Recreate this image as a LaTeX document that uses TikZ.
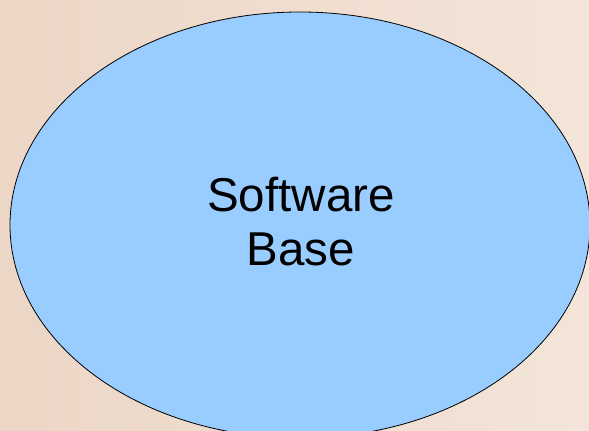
\documentclass[tikz,border=0pt]{standalone}
\usepackage{fontspec}
\setmainfont{Liberation Sans}
\usetikzlibrary{shapes.geometric}
\definecolor{bgleft}{RGB}{236,214,198}
\definecolor{bgright}{RGB}{243,229,217}
\definecolor{ellfill}{RGB}{153,204,255}
\tikzset{
  baseell/.style={ellipse, draw=black, line width=0.8pt, fill=ellfill, inner sep=0pt},
  basetext/.style={align=center, font=\fontsize{47.5}{54}\selectfont, inner sep=0pt}
}
\begin{document}
\begin{tikzpicture}[x=1pt,y=1pt]
\useasboundingbox (0,0) rectangle (589,431);
\clip (0,0) rectangle (589,431);
\shade[left color=bgleft, right color=bgright] (0,0) rectangle (589,431);
\node[baseell, minimum width=580pt, minimum height=426pt] (ell) at (300,206) {};
\node[basetext] (lbl) at (301,209) {Software\\Base};
\end{tikzpicture}
\end{document}
